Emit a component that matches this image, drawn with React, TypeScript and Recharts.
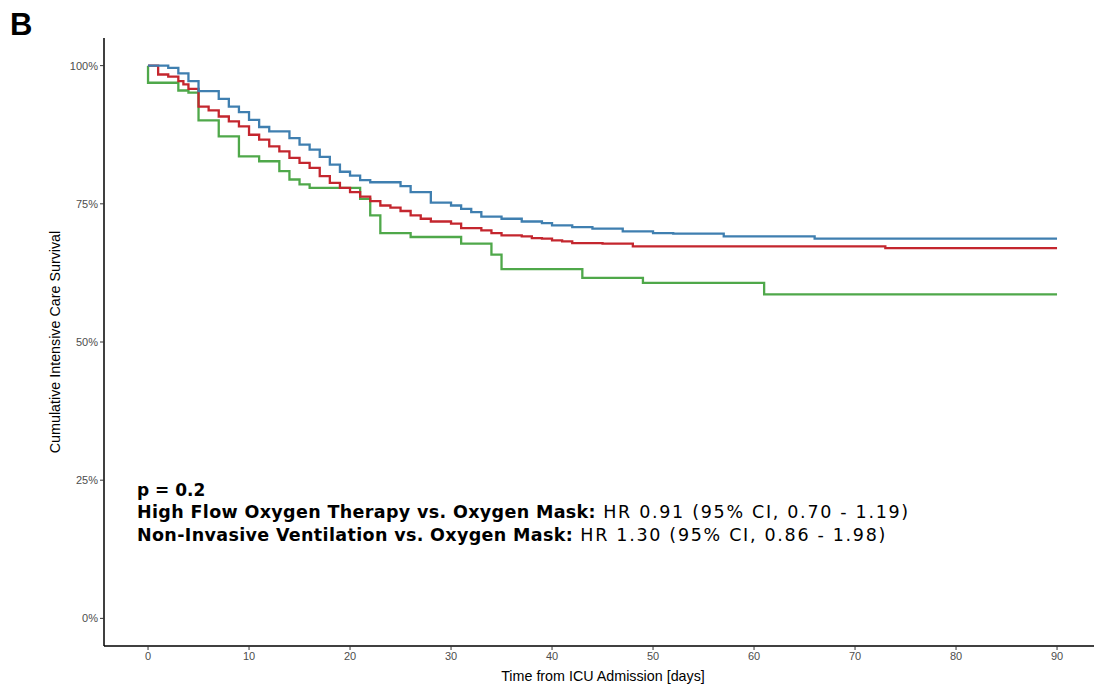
import { Label, Line, LineChart, XAxis, YAxis } from "recharts";

// Kaplan–Meier steps (day, survival %)
const blueDays = [0, 2, 3, 4, 5, 7, 8, 9, 10, 11, 12, 14, 15, 16, 17, 18, 19, 20, 21, 22, 25, 26, 28, 30, 31, 32, 33, 35, 37, 39, 40, 42, 44, 47, 50, 52, 57, 66, 90];
const blueSurv = [100, 99.6, 98.6, 97.2, 95.4, 94.0, 92.6, 91.6, 90.2, 88.9, 88.1, 86.9, 85.7, 84.8, 83.5, 82.1, 80.8, 80.1, 79.3, 78.9, 78.2, 77.1, 75.2, 74.7, 74.1, 73.5, 72.7, 72.3, 71.8, 71.5, 71.1, 70.8, 70.5, 70.0, 69.7, 69.6, 69.1, 68.7, 68.7];

const redDays = [0, 1, 2, 3, 3.5, 4, 5, 6, 7, 8, 9, 10, 11, 12, 13, 14, 15, 16, 17, 18, 19, 20, 21, 22, 23, 24, 25, 26, 27, 28, 30, 31, 33, 34, 35, 37, 38, 39, 40, 41, 42, 45, 48, 73, 90];
const redSurv = [100, 98.4, 98.0, 97.2, 96.6, 95.8, 92.6, 91.9, 90.8, 89.9, 89.0, 87.5, 86.6, 85.4, 84.5, 83.3, 82.4, 81.5, 80.0, 78.8, 77.9, 77.1, 76.3, 75.5, 74.7, 74.3, 73.7, 72.9, 72.3, 71.8, 71.4, 70.6, 70.2, 69.7, 69.3, 69.1, 68.8, 68.7, 68.4, 68.2, 67.9, 67.8, 67.3, 67.0, 67.0];

const greenDays = [0, 0, 3, 4, 5, 7, 9, 11, 13, 14, 15, 16, 21, 22, 23, 26, 31, 34, 35, 43, 49, 61, 90];
const greenSurv = [100, 96.9, 95.5, 95.1, 90.1, 87.2, 83.6, 82.7, 80.9, 79.4, 78.5, 77.9, 75.9, 72.9, 69.7, 69.0, 67.8, 65.8, 63.2, 61.6, 60.7, 58.6, 58.6];

const xTicks = [0, 10, 20, 30, 40, 50, 60, 70, 80, 90];
const yTicks = [0, 25, 50, 75, 100];

const toSeries = (days: number[], surv: number[]) =>
  days.map((d, i) => ({ day: d, surv: surv[i] }));

const blueData = toSeries(blueDays, blueSurv);
const redData = toSeries(redDays, redSurv);
const greenData = toSeries(greenDays, greenSurv);

const sans = "Liberation Sans, Arial, sans-serif";
const tickStyle = { fontSize: 11, fill: "#4d4d4d", fontFamily: sans };
const titleStyle = { fontSize: 14.3, fill: "#000", fontFamily: sans };
const annoFont = "DejaVu Sans, Verdana, sans-serif";

export default function App() {
  return (
    <div style={{ position: "absolute", left: 0, top: 0, width: 1094, height: 684, background: "#fff" }}>
      <LineChart width={1094} height={684} margin={{ top: 38, right: 0, bottom: 0, left: 0 }}>
        <XAxis
          type="number"
          dataKey="day"
          domain={[-4.36, 93.66]}
          allowDataOverflow
          ticks={xTicks}
          tick={tickStyle}
          tickSize={4}
          tickMargin={2}
          tickLine={{ stroke: "#333" }}
          axisLine={{ stroke: "#000", strokeWidth: 1.5 }}
          height={38}
        >
          <Label value="Time from ICU Admission [days]" position="insideBottom" offset={3} dx={4} style={titleStyle} />
        </XAxis>
        <YAxis
          type="number"
          domain={[-5, 105]}
          allowDataOverflow
          ticks={yTicks}
          tickFormatter={(v: number) => `${v}%`}
          tick={tickStyle}
          tickSize={4}
          tickMargin={2}
          tickLine={{ stroke: "#333" }}
          axisLine={{ stroke: "#000", strokeWidth: 1.5 }}
          width={104}
        >
          <Label value="Cumulative Intensive Care Survival" angle={-90} position="center" dx={3} style={titleStyle} />
        </YAxis>
        <Line data={greenData} dataKey="surv" type="stepAfter" stroke="#4fa84a" strokeWidth={2.3} dot={false} isAnimationActive={false} />
        <Line data={redData} dataKey="surv" type="stepAfter" stroke="#c4262e" strokeWidth={2.3} dot={false} isAnimationActive={false} />
        <Line data={blueData} dataKey="surv" type="stepAfter" stroke="#3f7fb0" strokeWidth={2.3} dot={false} isAnimationActive={false} />
      </LineChart>

      {/* panel letter and test results */}
      <svg width={1094} height={684} style={{ position: "absolute", left: 0, top: 0, pointerEvents: "none" }}>
        <text x={10} y={35} fontSize={31} fontWeight={900} fontFamily={sans}>B</text>
        <text x={137} y={496} fontSize={17} fontFamily={annoFont} fontWeight="bold">p = 0.2</text>
        <text x={137} y={518} fontSize={17.5} fontFamily={annoFont}>
          <tspan fontWeight="bold" letterSpacing={0.35}>High Flow Oxygen Therapy vs. Oxygen Mask:</tspan>
          <tspan letterSpacing={1.7}> HR 0.91 (95% CI, 0.70 - 1.19)</tspan>
        </text>
        <text x={137} y={541} fontSize={17.5} fontFamily={annoFont}>
          <tspan fontWeight="bold" letterSpacing={0.35}>Non-Invasive Ventilation vs. Oxygen Mask:</tspan>
          <tspan letterSpacing={1.7}> HR 1.30 (95% CI, 0.86 - 1.98)</tspan>
        </text>
      </svg>
    </div>
  );
}
